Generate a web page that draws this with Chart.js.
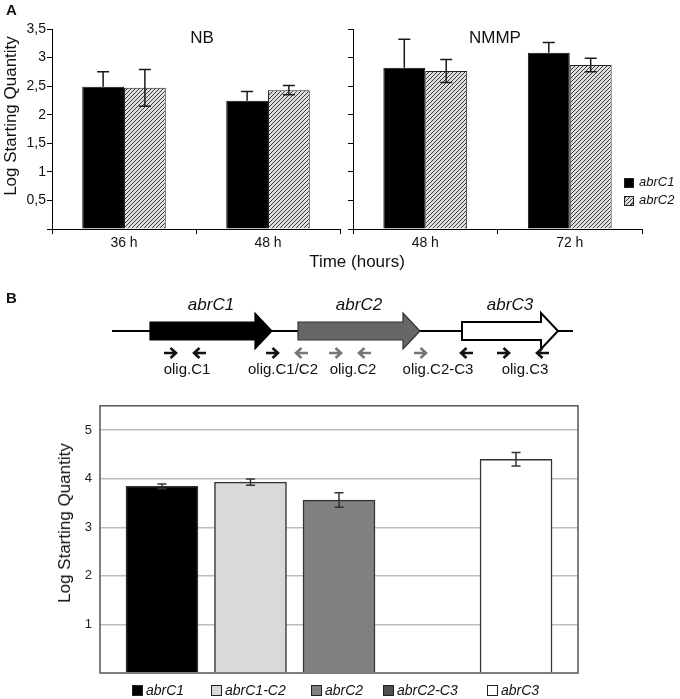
<!DOCTYPE html>
<html>
<head>
<meta charset="utf-8">
<script src="https://cdn.jsdelivr.net/npm/chart.js@4.4.1/dist/chart.umd.min.js"></script>
<style>
  body { margin: 0; background: #fff; font-family: "Liberation Sans", Arial, sans-serif; color: #111; }
  #page { position: relative; width: 680px; height: 699px; overflow: hidden; }
  canvas { position: absolute; }
  .lbl { position: absolute; white-space: nowrap; transform: translate(-50%, -50%); }
  .rot { position: absolute; white-space: nowrap; transform: translate(-50%, -50%) rotate(-90deg); font-size: 17px; }
  .key { position: absolute; font-style: italic; white-space: nowrap; }
  .sw { position: absolute; box-sizing: border-box; border: 1px solid #222; }
</style>
</head>
<body>
<div id="page">
  <canvas id="nb" width="345" height="265" style="left:0;top:0"></canvas>
  <canvas id="nmmp" width="335" height="265" style="left:345px;top:0"></canvas>
  <canvas id="genes" width="500" height="100" style="left:90px;top:290px"></canvas>
  <canvas id="qpcr" width="680" height="309" style="left:0;top:390px"></canvas>

  <div style="position:absolute;left:6px;top:1px;font-weight:bold;font-size:15px">A</div>
  <div style="position:absolute;left:6px;top:289px;font-weight:bold;font-size:15px">B</div>
  <div class="lbl" style="left:202px;top:38px;font-size:17px">NB</div>
  <div class="lbl" style="left:495px;top:38px;font-size:17px">NMMP</div>
  <div class="lbl" style="left:357px;top:262px;font-size:17px">Time (hours)</div>
  <div class="rot" style="left:11px;top:116px">Log Starting Quantity</div>
  <div class="rot" style="left:65px;top:523px">Log Starting Quantity</div>

  <div class="sw" style="left:624px;top:178px;width:10px;height:10px;background:#000"></div>
  <div class="key" style="left:639px;top:174px;font-size:13px">abrC1</div>
  <div class="sw" style="left:624px;top:196px;width:10px;height:10px;background:repeating-linear-gradient(135deg,#444 0 1px,#ddd 1px 3px)"></div>
  <div class="key" style="left:639px;top:192px;font-size:13px">abrC2</div>

  <div id="legendB"></div>
</div>
<script>
// panel A: qPCR in NB and NMMP media
const nbLabels = ['36 h', '48 h'];
const nbC1 = [2.49, 2.245];
const nbC1Err = [0.26, 0.16];
const nbC2 = [2.47, 2.43];
const nbC2Err = [0.32, 0.08];

const nmmpLabels = ['48 h', '72 h'];
const nmmpC1 = [2.82, 3.085];
const nmmpC1Err = [0.50, 0.18];
const nmmpC2 = [2.765, 2.87];
const nmmpC2Err = [0.20, 0.12];

const yTicksA = [0, 0.5, 1, 1.5, 2, 2.5, 3, 3.5];

// panel B: gene cluster (bp) and transcript quantities
const genes = ['abrC1', 'abrC2', 'abrC3'];
const geneStart = [380, 1860, 3500];
const geneEnd = [1600, 3080, 4460];
const regionEnd = 4610;
const primerPos = [580, 880, 1600, 1900, 2230, 2530, 3080, 3550, 3910, 4310];
const primerDir = [1, -1, 1, -1, 1, -1, 1, -1, 1, -1];
const oligos = ['olig.C1', 'olig.C1/C2', 'olig.C2', 'olig.C2-C3', 'olig.C3'];
const oligoCenter = [750, 1710, 2410, 3260, 4130];

const targets = ['abrC1', 'abrC1-C2', 'abrC2', 'abrC2-C3', 'abrC3'];
const logQty = [3.84, 3.93, 3.56, null, 4.40];
const logErr = [0.05, 0.065, 0.15, null, 0.14];

// styles
const geneFill = ['#000', '#666', '#fff'];
const geneStroke = ['#000', '#333', '#000'];
const primerColor = ['#111', '#111', '#111', '#777', '#777', '#777', '#777', '#111', '#111', '#111'];
const targetColor = ['#000', '#d9d9d9', '#808080', '#505050', '#fff'];
const legendLeft = [132, 211, 311, 383, 487];

Chart.defaults.font.family = '"Liberation Sans", Arial, sans-serif';
Chart.defaults.color = '#111';
Chart.defaults.animation = false;
Chart.defaults.plugins.legend.display = false;
Chart.defaults.plugins.tooltip.enabled = false;

function hatch() {
  const c = document.createElement('canvas');
  c.width = 4; c.height = 4;
  const g = c.getContext('2d');
  g.fillStyle = '#dedede';
  g.fillRect(0, 0, 4, 4);
  g.strokeStyle = '#3a3a3a';
  g.lineWidth = 1;
  g.beginPath();
  g.moveTo(0, 4); g.lineTo(4, 0);
  g.moveTo(-1, 1); g.lineTo(1, -1);
  g.moveTo(3, 5); g.lineTo(5, 3);
  g.stroke();
  return g.createPattern(c, 'repeat');
}

const errorBars = {
  id: 'errorBars',
  afterDatasetsDraw(chart, args, opts) {
    const ctx = chart.ctx, y = chart.scales.y;
    ctx.save();
    ctx.strokeStyle = opts.color;
    ctx.lineWidth = opts.width;
    chart.data.datasets.forEach((ds, i) => {
      if (!ds.errors) return;
      chart.getDatasetMeta(i).data.forEach((bar, j) => {
        const raw = ds.data[j];
        const v = raw && typeof raw === 'object' ? raw.y : raw;
        const e = ds.errors[j];
        if (v == null || e == null) return;
        const t = y.getPixelForValue(v + e), c = opts.cap / 2;
        const b = ds.errorUpOnly ? y.getPixelForValue(v) : y.getPixelForValue(v - e);
        ctx.beginPath();
        ctx.moveTo(bar.x, t); ctx.lineTo(bar.x, b);
        ctx.moveTo(bar.x - c, t); ctx.lineTo(bar.x + c, t);
        if (!ds.errorUpOnly) { ctx.moveTo(bar.x - c, b); ctx.lineTo(bar.x + c, b); }
        ctx.stroke();
      });
    });
    ctx.restore();
  }
};

function panelA(id, labels, c1, c1e, c2, c2e, showLabels, padRight, yWidth) {
  const ctx = document.getElementById(id).getContext('2d');
  return new Chart(ctx, {
    type: 'bar',
    data: {
      labels: labels,
      datasets: [
        { label: 'abrC1', data: c1, errors: c1e, errorUpOnly: true, backgroundColor: '#000', borderColor: '#111', borderWidth: 1 },
        { label: 'abrC2', data: c2, errors: c2e, backgroundColor: hatch(), borderColor: '#222', borderWidth: 1 }
      ]
    },
    options: {
      responsive: false,
      layout: { padding: { top: 29, right: padRight, left: 0, bottom: 0 } },
      datasets: { bar: { categoryPercentage: 0.58, barPercentage: 1 } },
      scales: {
        x: {
          grid: { drawOnChartArea: false, tickLength: 5, color: '#000', offset: true },
          border: { color: '#000', width: 1 },
          ticks: { font: { size: 14 }, padding: 1, color: '#111' },
          afterFit: s => { s.height = 36; }
        },
        y: {
          min: 0, max: 3.5,
          afterBuildTicks: s => { s.ticks = yTicksA.map(v => ({ value: v })); },
          grid: { drawOnChartArea: false, tickLength: 5, color: '#000' },
          border: { color: '#000', width: 1 },
          ticks: {
            font: { size: 14 }, padding: 1, color: '#111', autoSkip: false,
            callback: v => (!showLabels || v === 0) ? '' : String(v).replace('.', ',')
          },
          afterFit: s => { s.width = yWidth; }
        }
      },
      plugins: { errorBars: { color: '#1a1a1a', width: 1.5, cap: 12 } }
    },
    plugins: [errorBars]
  });
}

panelA('nb', nbLabels, nbC1, nbC1Err, nbC2, nbC2Err, true, 5, 52);
panelA('nmmp', nmmpLabels, nmmpC1, nmmpC1Err, nmmpC2, nmmpC2Err, false, 38, 8);

// gene map drawn on a linear bp scale
const geneMap = {
  id: 'geneMap',
  afterDraw(chart) {
    const ctx = chart.ctx, x = chart.scales.x;
    const midY = 41, body = 9, head = 18, headLen = 17;
    ctx.save();
    ctx.strokeStyle = '#000';
    ctx.lineWidth = 2;
    ctx.beginPath();
    ctx.moveTo(x.getPixelForValue(0), midY);
    ctx.lineTo(x.getPixelForValue(regionEnd), midY);
    ctx.stroke();
    genes.forEach((g, i) => {
      const a = x.getPixelForValue(geneStart[i]), b = x.getPixelForValue(geneEnd[i]), hb = b - headLen;
      ctx.beginPath();
      ctx.moveTo(a, midY - body); ctx.lineTo(hb, midY - body); ctx.lineTo(hb, midY - head);
      ctx.lineTo(b, midY); ctx.lineTo(hb, midY + head); ctx.lineTo(hb, midY + body);
      ctx.lineTo(a, midY + body); ctx.closePath();
      ctx.fillStyle = geneFill[i];
      ctx.fill();
      ctx.strokeStyle = geneStroke[i];
      ctx.lineWidth = i === 2 ? 2 : 1.2;
      ctx.stroke();
      ctx.fillStyle = '#111';
      ctx.font = 'italic 17px "Liberation Sans", Arial, sans-serif';
      ctx.textAlign = 'center';
      ctx.textBaseline = 'middle';
      ctx.fillText(g, (a + b) / 2, 15);
    });
    primerPos.forEach((p, i) => {
      const px = x.getPixelForValue(p), d = primerDir[i], py = 63;
      ctx.strokeStyle = primerColor[i];
      ctx.lineWidth = 2.6;
      ctx.lineJoin = 'miter';
      ctx.beginPath();
      ctx.moveTo(px - 6 * d, py); ctx.lineTo(px + 5 * d, py);
      ctx.moveTo(px + 0.5 * d, py - 5); ctx.lineTo(px + 6 * d, py); ctx.lineTo(px + 0.5 * d, py + 5);
      ctx.stroke();
    });
    ctx.fillStyle = '#111';
    ctx.font = '15px "Liberation Sans", Arial, sans-serif';
    ctx.textAlign = 'center';
    ctx.textBaseline = 'middle';
    oligos.forEach((o, i) => ctx.fillText(o, x.getPixelForValue(oligoCenter[i]), 80));
    ctx.restore();
  }
};

new Chart(document.getElementById('genes').getContext('2d'), {
  type: 'scatter',
  data: { datasets: [] },
  options: {
    responsive: false,
    scales: {
      x: { type: 'linear', min: -220, max: 4780, display: false },
      y: { min: 0, max: 1, display: false }
    }
  },
  plugins: [geneMap]
});

// bottom bar chart
const frame = {
  id: 'frame',
  afterDatasetsDraw(chart) {
    const a = chart.chartArea, ctx = chart.ctx;
    ctx.save();
    ctx.strokeStyle = '#555';
    ctx.lineWidth = 1.5;
    ctx.strokeRect(a.left, a.top, a.right - a.left, a.bottom - a.top);
    ctx.restore();
  }
};

new Chart(document.getElementById('qpcr').getContext('2d'), {
  type: 'bar',
  data: {
    datasets: [{
      data: targets.map((t, i) => ({ x: i, y: logQty[i] })),
      errors: logErr,
      backgroundColor: targetColor,
      borderColor: '#333',
      borderWidth: 1.5,
      barThickness: 72
    }]
  },
  options: {
    responsive: false,
    layout: { padding: { top: 12, right: 102, left: 0, bottom: 26 } },
    scales: {
      x: { type: 'linear', min: -0.7, max: 4.7, offset: false, display: false },
      y: {
        min: 0, max: 5.5,
        ticks: {
          stepSize: 1, font: { size: 13 }, padding: 8, color: '#222', autoSkip: false,
          callback: v => (Number.isInteger(v) && v > 0) ? v : ''
        },
        grid: {
          drawTicks: false, lineWidth: 1.5,
          color: c => (c.tick && c.tick.value > 0 && c.tick.value < 5.5) ? '#bdbdbd' : 'rgba(0,0,0,0)'
        },
        border: { display: false },
        afterFit: s => { s.width = 100; }
      }
    },
    plugins: { errorBars: { color: '#333', width: 1.5, cap: 9 } }
  },
  plugins: [errorBars, frame]
});

// legend for panel B
const legendB = document.getElementById('legendB');
targets.forEach((t, i) => {
  const sw = document.createElement('div');
  sw.className = 'sw';
  sw.style.cssText = `left:${legendLeft[i]}px;top:685px;width:11px;height:11px;background:${targetColor[i]}`;
  const tx = document.createElement('div');
  tx.className = 'key';
  tx.style.cssText = `left:${legendLeft[i] + 14}px;top:682px;font-size:14px`;
  tx.textContent = t;
  legendB.appendChild(sw);
  legendB.appendChild(tx);
});
</script>
</body>
</html>
